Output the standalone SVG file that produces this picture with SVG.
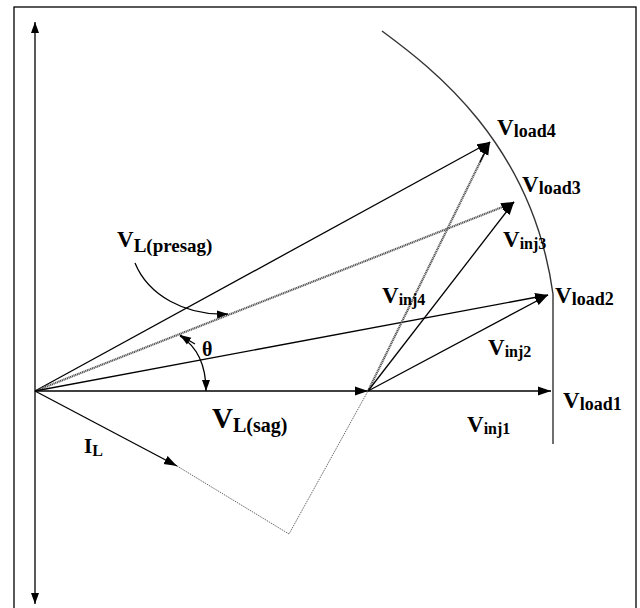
<svg xmlns="http://www.w3.org/2000/svg" width="640" height="608" viewBox="0 0 640 608">
<defs>
<marker id="ah" markerUnits="userSpaceOnUse" markerWidth="14" markerHeight="10" refX="13" refY="5" orient="auto">
<path d="M0,0.5 L13,5 L0,9.5 z" fill="#000"/>
</marker>
<marker id="ahs" markerUnits="userSpaceOnUse" markerWidth="12" markerHeight="9" refX="11" refY="4.5" orient="auto">
<path d="M0,0.5 L11,4.5 L0,8.5 z" fill="#000"/>
</marker>
</defs>
<style>
.ln{stroke:#000;stroke-width:1.3;fill:none}
.gr{stroke:#555;stroke-width:2.2;fill:none;stroke-dasharray:1.2 0.6}
.dt{stroke:#666;stroke-width:1;fill:none;stroke-dasharray:1.5 1}
.arc{stroke:#333;stroke-width:1.4;fill:none}
text{font-family:"Liberation Serif","Times New Roman",serif;font-weight:bold;fill:#000}
.v{font-size:23px}
.sl{font-size:18px}
.si{font-size:16px}
</style>
<rect id="frame" x="14" y="7" width="622" height="610" fill="#fff" stroke="#000" stroke-width="1.3"/>
<g id="axes">
<line class="ln" x1="35" y1="391" x2="35" y2="22" marker-end="url(#ahs)"/>
<line class="ln" x1="35" y1="391" x2="35" y2="604" marker-end="url(#ahs)"/>
</g>
<path id="locus" class="arc" d="M382,31 C432,68 532,143 553,294 L553,444"/>
<g id="connectors">
<line class="ln" x1="35" y1="391" x2="368" y2="391" marker-end="url(#ah)"/>
<line class="ln" x1="368" y1="391" x2="551" y2="391" marker-end="url(#ah)"/>
<line class="ln" x1="35" y1="391" x2="490" y2="142" marker-end="url(#ah)"/>
<line class="gr" x1="35" y1="391" x2="505" y2="206"/>
<line class="ln" x1="505" y1="206" x2="514" y2="202" marker-end="url(#ah)"/>
<line class="ln" x1="35" y1="391" x2="548" y2="295" marker-end="url(#ah)"/>
<line class="gr" x1="368" y1="391" x2="486" y2="150"/>
<line class="ln" x1="480" y1="162" x2="490" y2="142" marker-end="url(#ah)"/>
<line class="ln" x1="368" y1="391" x2="514" y2="202" marker-end="url(#ah)"/>
<line class="ln" x1="368" y1="391" x2="548" y2="295" marker-end="url(#ah)"/>
<line class="ln" x1="35" y1="391" x2="177" y2="466" stroke="#222" stroke-width="1.8" marker-end="url(#ah)"/>
<polyline class="dt" points="177,466 289,534 368,391"/>
<path class="ln" d="M135,263 C148,295 185,316 228,314" marker-end="url(#ahs)"/>
<path class="ln" d="M180,336 Q206,352 206,391" marker-start="url(#ahs)" marker-end="url(#ahs)" style="marker-start:none"/>
<path class="ln" d="M195,344 Q183,337 180,335" marker-end="url(#ahs)"/>
</g>
<g id="labels">
<text x="497" y="135"><tspan class="v">V</tspan><tspan class="sl" dy="2">load4</tspan></text>
<text x="522" y="192"><tspan class="v">V</tspan><tspan class="sl" dy="2">load3</tspan></text>
<text x="503" y="247"><tspan class="v">V</tspan><tspan class="si" dy="2">inj3</tspan></text>
<text x="555" y="303"><tspan class="v">V</tspan><tspan class="sl" dy="2">load2</tspan></text>
<text x="382" y="303"><tspan class="v">V</tspan><tspan class="si" dy="2">inj4</tspan></text>
<text x="488" y="355"><tspan class="v">V</tspan><tspan class="si" dy="2">inj2</tspan></text>
<text x="563" y="408"><tspan class="v">V</tspan><tspan class="sl" dy="2">load1</tspan></text>
<text x="467" y="432"><tspan class="v">V</tspan><tspan class="si" dy="2">inj1</tspan></text>
<text x="117" y="247"><tspan class="v">V</tspan><tspan style="font-size:19px" dy="5">L(presag)</tspan></text>
<text x="212" y="428"><tspan style="font-size:29px">V</tspan><tspan style="font-size:20px" dy="4">L(sag)</tspan></text>
<text x="84" y="453"><tspan style="font-size:21px">I</tspan><tspan style="font-size:16px" dy="3">L</tspan></text>
<text x="202" y="356" style="font-size:20px">θ</text>
</g>
</svg>
